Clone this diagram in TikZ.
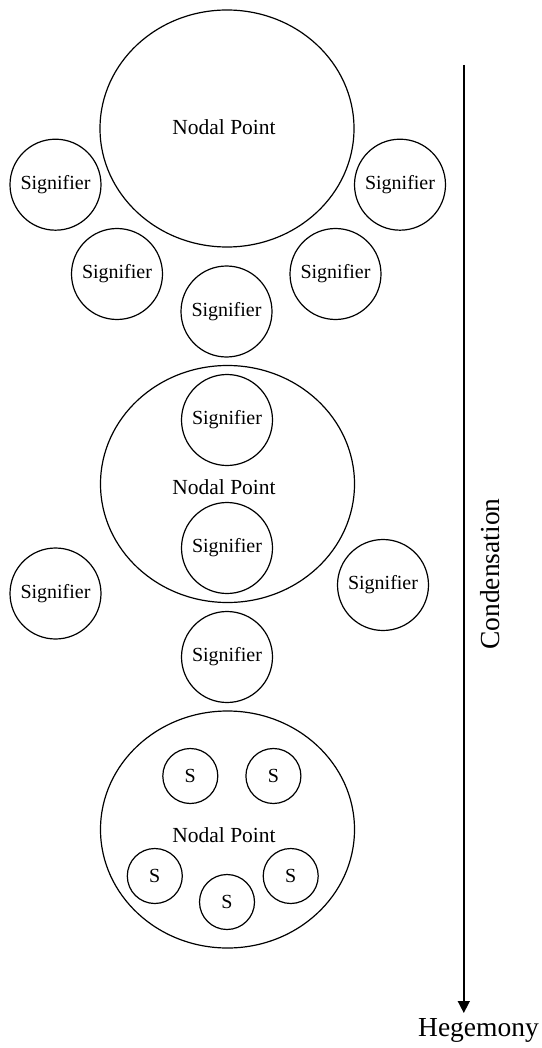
\documentclass[tikz,border=0pt]{standalone}
\usepackage{fontspec}
\setmainfont{Liberation Serif}
\usetikzlibrary{shapes.geometric,arrows.meta}
\tikzset{
  sig/.style={circle,draw,line width=1.2pt,minimum size=91pt,inner sep=0pt,font=\fontsize{20}{22}\selectfont},
  small/.style={circle,draw,line width=1.2pt,minimum size=55pt,inner sep=0pt,font=\fontsize{20}{22}\selectfont},
  nodal/.style={ellipse,draw,line width=1.2pt,minimum width=254pt,minimum height=237pt,inner sep=0pt},
  nlabel/.style={inner sep=0pt,font=\fontsize{21.5}{24}\selectfont},
  biglabel/.style={inner sep=0pt,font=\fontsize{27.5}{30}\selectfont}
}
\begin{document}
\begin{tikzpicture}[x=1pt,y=-1pt]
\useasboundingbox (0,0) rectangle (541,1048);
% top group
\node[nodal] (n1) at (227,128.5) {};
\node[nlabel] (n1t) at (224,127) {Nodal Point};
\node[sig] (a1) at (55.5,184.7) {Signifier};
\node[sig] (a2) at (400,184.7) {Signifier};
\node[sig] (a3) at (117,274) {Signifier};
\node[sig] (a4) at (335.5,274) {Signifier};
\node[sig] (a5) at (226.5,311.5) {Signifier};
% middle group
\node[nodal] (n2) at (227.5,484) {};
\node[nlabel] (n2t) at (224,487) {Nodal Point};
\node[sig] (b1) at (227,420) {Signifier};
\node[sig] (b2) at (227,548) {Signifier};
\node[sig] (b3) at (55.5,593.5) {Signifier};
\node[sig] (b4) at (383,585) {Signifier};
\node[sig] (b5) at (227,657) {Signifier};
% bottom group
\node[nodal] (n3) at (227.5,829.5) {};
\node[nlabel] (n3t) at (224,835) {Nodal Point};
\node[small] (c1) at (190.3,776) {S};
\node[small] (c2) at (273.4,776) {S};
\node[small] (c3) at (154.8,876) {S};
\node[small] (c4) at (290.7,876) {S};
\node[small] (c5) at (227,902) {S};
% arrow
\coordinate (top) at (463.8,65);
\node[biglabel,anchor=north] (heg) at (478.5,1018) {Hegemony};
\coordinate (tip) at (463.8,1013);
\draw[line width=1.5pt,-{Triangle[length=12pt,width=12pt]}] (top) -- (tip);
\node[biglabel,rotate=90] (cond) at (490.5,574) {Condensation};
\end{tikzpicture}
\end{document}
